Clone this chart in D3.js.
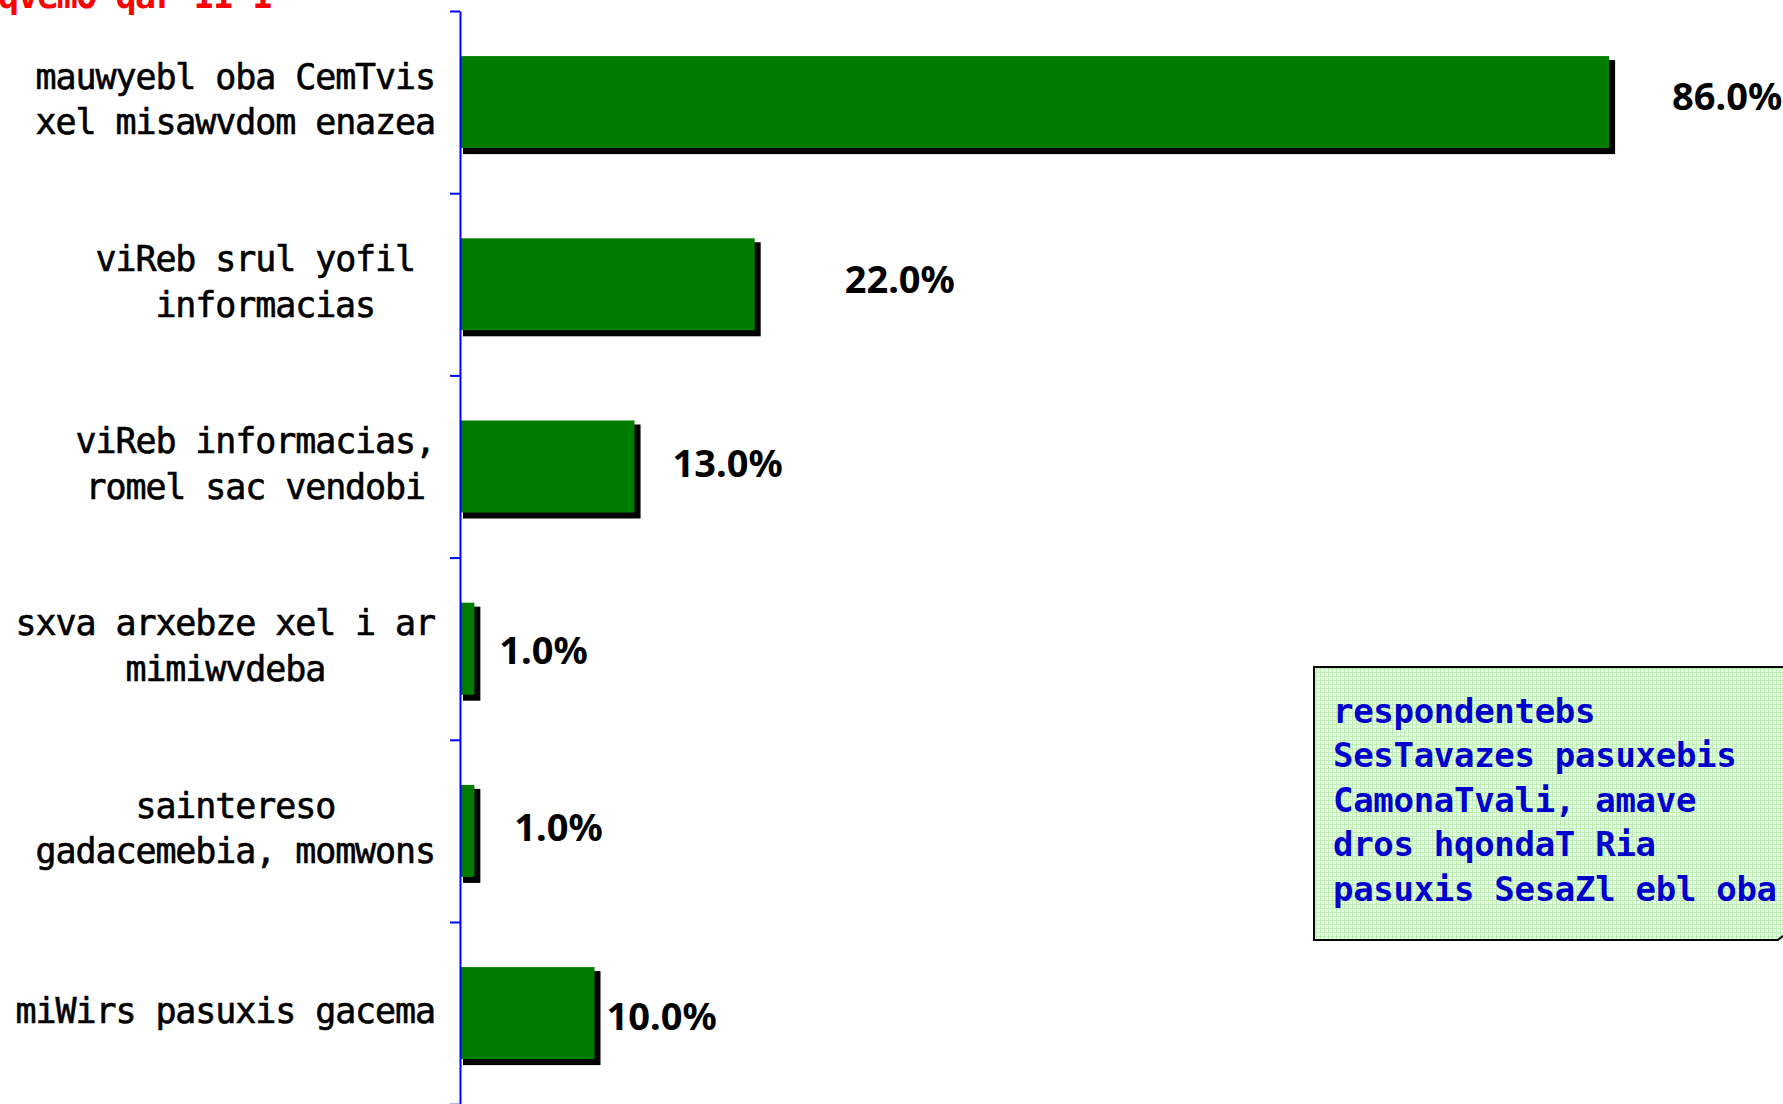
<!DOCTYPE html>
<html><head><meta charset="utf-8">
<script src="https://cdn.jsdelivr.net/npm/d3@7"></script>
<style>html,body{margin:0;padding:0;background:#fff;overflow:hidden}</style>
</head><body><svg id="c" width="1783" height="1104"></svg>
<script>
// ---- data ----
const categories = [
  ["mauwyebl oba CemTvis", "xel misawvdom enazea"],
  ["viReb srul yofil ", "informacias"],
  ["viReb informacias,", "romel sac vendobi"],
  ["sxva arxebze xel i ar", "mimiwvdeba"],
  ["saintereso", "gadacemebia, momwons"],
  ["miWirs pasuxis gacema"]
];
const values = [86, 22, 13, 1, 1, 10];
const valueLabels = ["86.0%", "22.0%", "13.0%", "1.0%", "1.0%", "10.0%"];
const titleText = "qvemO qar II I";
const noteLines = ["respondentebs", "SesTavazes pasuxebis", "CamonaTvali, amave", "dros hqondaT Ria", "pasuxis SesaZl ebl oba"];

// ---- layout ----
const labelGap = [63, 90, 38, 25, 40, 12];
const labelDy = [-7, -6, -5, 0, -5, 2];
const svg = d3.select("#c");
const x = d3.scaleLinear().domain([0, 100]).range([461, 1796]);
const y = d3.scaleBand().domain(d3.range(values.length)).range([11, 1104.2])
  .paddingInner(0.495).paddingOuter(0.2475);
const tickScale = d3.scaleLinear().domain([0, values.length]).range([11, 1104.2]);

const defs = svg.append("defs");
const pat = defs.append("pattern").attr("id", "grid").attr("patternUnits", "userSpaceOnUse")
  .attr("width", 4).attr("height", 4);
pat.append("rect").attr("width", 4).attr("height", 4).attr("fill", "#e6fbe2");
pat.append("path").attr("d", "M0,0.5H4M0.5,0V4").attr("stroke", "#bdeeb6").attr("stroke-width", 1);

// title
svg.append("text").attr("x", -2).attr("y", 8)
  .attr("font-family", "DejaVu Sans Mono").attr("font-weight", "bold").attr("font-size", 35)
  .attr("letter-spacing", "-1.5px").attr("fill", "#ff0000").text(titleText);

// bars
const bars = svg.append("g");
bars.selectAll("rect.sh").data(values).join("rect").attr("class", "sh")
  .attr("x", x(0) + 2).attr("y", (d, i) => y(i) + 4)
  .attr("width", d => x(d) - x(0) + 4).attr("height", y.bandwidth() + 2)
  .attr("fill", "#000");
bars.selectAll("rect.bar").data(values).join("rect").attr("class", "bar")
  .attr("x", x(0)).attr("y", (d, i) => y(i))
  .attr("width", d => x(d) - x(0)).attr("height", y.bandwidth())
  .attr("fill", "#007d00");

// axis
const ax = svg.append("g").attr("transform", "translate(460,0)")
  .call(d3.axisLeft(tickScale).tickValues(d3.range(0, values.length + 1)).tickSize(10).tickSizeOuter(0).tickFormat(""));
ax.select(".domain").attr("stroke", "#0000ff").attr("stroke-width", 2);
ax.selectAll(".tick line").attr("stroke", "#0000ff").attr("stroke-width", 2);

// category labels
const right = 435, lineH = 45.5;
categories.forEach((lines, i) => {
  const cy = y(i) + y.bandwidth() / 2;
  const g = svg.append("g");
  const texts = lines.map((t, j) => g.append("text")
    .attr("y", cy + 9.5 - (lines.length - 1) * lineH / 2 + j * lineH)
    .attr("font-family", "DejaVu Sans Mono").attr("font-size", 35)
    .attr("letter-spacing", "-1.1px").attr("fill", "#000")
    .attr("stroke", "#000").attr("stroke-width", 0.6)
    .style("white-space", "pre").attr("text-anchor", "middle").text(t));
  const maxW = d3.max(texts, t => t.node().getComputedTextLength());
  texts.forEach(t => t.attr("x", right - maxW / 2));
});

// value labels
svg.append("g").selectAll("text").data(values).join("text")
  .attr("x", (d, i) => x(d) + labelGap[i])
  .attr("y", (d, i) => y(i) + y.bandwidth() / 2 + labelDy[i])
  .attr("dominant-baseline", "central")
  .attr("font-family", "Noto Sans").attr("font-weight", "bold").attr("font-size", 38)
  .attr("fill", "#000").text((d, i) => valueLabels[i]);

// note box
svg.append("path").attr("d", "M1314,667H1805V918L1778,940H1314Z")
  .attr("fill", "url(#grid)").attr("stroke", "#000").attr("stroke-width", 2);
svg.append("g").selectAll("text").data(noteLines).join("text")
  .attr("x", 1333).attr("y", (d, i) => 722.7 + i * 44.5)
  .attr("font-family", "DejaVu Sans Mono").attr("font-weight", "bold").attr("font-size", 34)
  .attr("letter-spacing", "-0.3px").attr("fill", "#0000cc").style("white-space", "pre").text(d => d);
</script></body></html>
